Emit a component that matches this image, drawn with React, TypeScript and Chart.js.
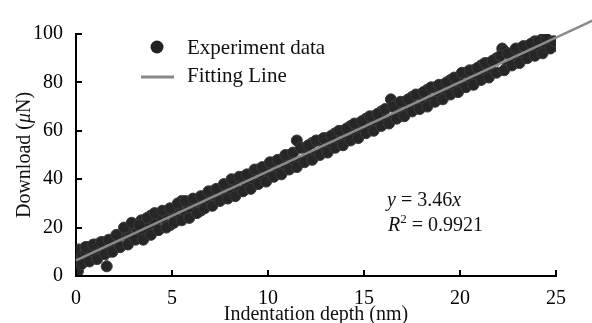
import React, { useEffect, useRef } from "react";
import { Chart, registerables } from "chart.js";

Chart.register(...registerables);

// first loading pass
const depthNm = [
  0, 0, 0.05, 0.1, 0.15, 0.3, 0.5, 0.6, 0.8, 1.0, 1.2, 1.4, 1.6, 1.7, 1.9, 2.1, 2.3, 2.4, 2.6, 2.8,
  3.0, 3.2, 3.4, 3.5, 3.7, 3.9, 4.1, 4.3, 4.5, 4.7, 4.9, 5.1, 5.3, 5.5, 5.7, 5.9, 6.1, 6.3, 6.5, 6.7,
  6.9, 7.1, 7.3, 7.5, 7.7, 7.9, 8.1, 8.3, 8.5, 8.7, 8.9, 9.1, 9.3, 9.5, 9.7, 9.9, 10.1, 10.3, 10.5, 10.7,
  10.9, 11.1, 11.3, 11.5, 11.7, 11.9, 12.1, 12.3, 12.5, 12.7, 12.9, 13.1, 13.3, 13.5, 13.7, 13.9, 14.1, 14.3, 14.5, 14.7,
  14.9, 15.1, 15.3, 15.5, 15.7, 15.9, 16.1, 16.4, 16.5, 16.7, 16.9, 17.1, 17.3, 17.5, 17.7, 17.9, 18.1, 18.3, 18.5, 18.7,
  18.9, 19.1, 19.3, 19.5, 19.7, 19.9, 20.1, 20.3, 20.5, 20.7, 20.9, 21.1, 21.3, 21.5, 21.7, 21.9, 22.2, 22.3, 22.5, 22.7,
  22.9, 23.1, 23.3, 23.5, 23.7, 23.9, 24.1, 24.3, 24.5, 24.7, 24.9, 25.0,
];

const loadUN = [
  0, 3, 6, 9, 11, 8, 10, 12, 9, 13, 11, 14, 4, 10, 13, 15, 12, 17, 19, 16,
  21, 18, 23, 17, 20, 25, 22, 19, 24, 26, 21, 25, 29, 31, 26, 28, 30, 31, 27, 33,
  30, 35, 31, 36, 33, 37, 34, 39, 35, 41, 37, 42, 38, 44, 40, 45, 41, 47, 43, 48,
  44, 50, 46, 56, 47, 53, 49, 55, 50, 56, 52, 57, 53, 59, 55, 60, 56, 62, 58, 63,
  59, 65, 61, 66, 62, 68, 64, 73, 65, 71, 67, 72, 68, 74, 70, 75, 71, 77, 72, 78,
  74, 79, 76, 81, 77, 82, 78, 84, 80, 85, 81, 87, 83, 88, 84, 90, 94, 93, 87, 92,
  89, 94, 90, 95, 92, 97, 93, 98, 94, 97, 95, 96,
];

// second pass
const depthNm2 = [
  0.1, 0.3, 0.5, 0.7, 0.9, 1.1, 1.3, 1.5, 1.7, 1.9, 2.1, 2.3, 2.5, 2.7, 2.9, 3.1, 3.3, 3.5, 3.7, 3.9,
  4.1, 4.3, 4.5, 4.7, 4.9, 5.1, 5.3, 5.5, 5.7, 5.9, 6.1, 6.3, 6.5, 6.7, 6.9, 7.1, 7.3, 7.5, 7.7, 7.9,
  8.1, 8.3, 8.5, 8.7, 8.9, 9.1, 9.3, 9.5, 9.7, 9.9, 10.1, 10.3, 10.5, 10.7, 10.9, 11.1, 11.3, 11.5, 11.7, 11.9,
  12.1, 12.3, 12.5, 12.7, 12.9, 13.1, 13.3, 13.5, 13.7, 13.9, 14.1, 14.3, 14.5, 14.7, 14.9, 15.1, 15.3, 15.5, 15.7, 15.9,
  16.1, 16.3, 16.5, 16.7, 16.9, 17.1, 17.3, 17.5, 17.7, 17.9, 18.1, 18.3, 18.5, 18.7, 18.9, 19.1, 19.3, 19.5, 19.7, 19.9,
  20.1, 20.3, 20.5, 20.7, 20.9, 21.1, 21.3, 21.5, 21.7, 21.9, 22.1, 22.3, 22.5, 22.7, 22.9, 23.1, 23.3, 23.5, 23.7, 23.9,
  24.1, 24.3, 24.5, 24.7, 24.9,
];

const loadUN2 = [
  2, 5, 12, 6, 13, 7, 14, 9, 15, 10, 17, 12, 20, 13, 22, 15, 21, 15, 24, 17,
  26, 19, 27, 20, 28, 22, 30, 23, 31, 24, 32, 26, 33, 28, 35, 29, 36, 31, 38, 32,
  40, 33, 41, 35, 42, 36, 44, 38, 45, 39, 47, 41, 48, 42, 50, 44, 51, 45, 53, 47,
  54, 48, 56, 50, 57, 51, 58, 53, 60, 54, 61, 56, 63, 57, 64, 59, 66, 60, 67, 62,
  69, 63, 70, 65, 72, 66, 73, 68, 75, 69, 76, 70, 78, 72, 79, 73, 80, 75, 82, 76,
  84, 78, 85, 79, 86, 81, 88, 82, 89, 84, 91, 85, 92, 87, 94, 88, 95, 90, 96, 91,
  97, 92, 98, 94, 97,
];

const fitX = [0, 27];
const fitY = [6.5, 105.9];

const xTicks = [0, 5, 10, 15, 20, 25];
const yTicks = [0, 20, 40, 60, 80, 100];

const SERIF = "Liberation Serif";
Chart.defaults.font.family = SERIF;

const overlay = {
  id: "overlay",
  afterDraw(chart: any) {
    const ctx = chart.ctx as CanvasRenderingContext2D;
    const xs = chart.scales.x;
    const ys = chart.scales.y;
    ctx.save();
    ctx.strokeStyle = "#000";
    ctx.lineWidth = 2;
    ctx.beginPath();
    xTicks.forEach((v) => {
      const px = Math.round(xs.getPixelForValue(v));
      ctx.moveTo(px, ys.bottom);
      ctx.lineTo(px, ys.bottom - 6);
    });
    yTicks.forEach((v) => {
      const py = Math.round(ys.getPixelForValue(v));
      ctx.moveTo(xs.left, py);
      ctx.lineTo(xs.left + 6, py);
    });
    ctx.stroke();

    ctx.textBaseline = "middle";

    // legend
    ctx.beginPath();
    ctx.arc(157, 47, 6.5, 0, Math.PI * 2);
    ctx.fillStyle = "#222";
    ctx.fill();
    ctx.strokeStyle = "#888";
    ctx.lineWidth = 3;
    ctx.beginPath();
    ctx.moveTo(141, 77);
    ctx.lineTo(174, 77);
    ctx.stroke();
    ctx.fillStyle = "#111";
    ctx.font = `21px ${SERIF}`;
    ctx.textAlign = "left";
    ctx.fillText("Experiment data", 187, 48);
    ctx.fillText("Fitting Line", 187, 76);

    const drawRuns = (runs: [string, string][], x: number, y: number) => {
      let cx = x;
      runs.forEach(([t, f]) => {
        ctx.font = f;
        ctx.fillText(t, cx, y);
        cx += ctx.measureText(t).width;
      });
    };
    const norm = `20px ${SERIF}`;
    const ital = `italic 20px ${SERIF}`;
    drawRuns([["y", ital], [" = 3.46", norm], ["x", ital]], 387, 201);
    let cx = 388;
    ctx.font = ital;
    ctx.fillText("R", cx, 226);
    cx += ctx.measureText("R").width;
    ctx.font = `13px ${SERIF}`;
    ctx.fillText("2", cx, 220);
    cx += ctx.measureText("2").width;
    ctx.font = norm;
    ctx.fillText(" = 0.9921", cx, 226);

    ctx.font = norm;
    ctx.textAlign = "center";
    ctx.fillText("Indentation depth (nm)", (xs.left + xs.right) / 2, 315);

    ctx.save();
    ctx.translate(25, (ys.top + ys.bottom) / 2);
    ctx.rotate(-Math.PI / 2);
    const parts: [string, string][] = [["Download (", norm], ["\u03bc", ital], ["N)", norm]];
    let total = 0;
    parts.forEach(([t, f]) => { ctx.font = f; total += ctx.measureText(t).width; });
    ctx.textAlign = "left";
    let px = -total / 2;
    parts.forEach(([t, f]) => {
      ctx.font = f;
      ctx.fillText(t, px, 0);
      px += ctx.measureText(t).width;
    });
    ctx.restore();

    ctx.restore();
  },
};

export default function App() {
  const ref = useRef<HTMLCanvasElement | null>(null);
  useEffect(() => {
    if (!ref.current) return;
    const expData: any[] = depthNm.map((x, i) => ({ x, y: loadUN[i] }));
    expData.push({ x: 25, y: null });
    depthNm2.forEach((x, i) => expData.push({ x, y: loadUN2[i] }));
    const fitData = fitX.map((x, i) => ({ x, y: fitY[i] }));
    const chart = new Chart(ref.current, {
      type: "scatter",
      data: {
        datasets: [
          {
            label: "Fitting Line",
            data: fitData,
            showLine: true,
            borderColor: "#8a8a8a",
            borderWidth: 2.5,
            pointRadius: 0,
            clip: false as any,
            order: 0,
          },
          {
            label: "Experiment data",
            data: expData,
            showLine: true,
            spanGaps: false,
            borderColor: "#a0a0a0",
            borderWidth: 1.5,
            pointRadius: 5.5,
            pointBackgroundColor: "#262626",
            pointBorderColor: "#3a3a3a",
            pointBorderWidth: 1,
            order: 1,
          },
        ],
      },
      options: {
        animation: false,
        responsive: true,
        maintainAspectRatio: false,
        layout: { padding: { top: 34, right: 36, left: 0, bottom: 0 } },
        plugins: { legend: { display: false }, tooltip: { enabled: false } },
        scales: {
          x: {
            type: "linear",
            min: 0,
            max: 25,
            afterBuildTicks: (s: any) => { s.ticks = xTicks.map((v) => ({ value: v })); },
            afterFit: (s: any) => { s.height = 47; },
            grid: { display: false },
            border: { display: true, color: "#000", width: 2 },
            ticks: { color: "#000", padding: 3, font: { family: SERIF, size: 20 } },
          },
          y: {
            type: "linear",
            min: 0,
            max: 100,
            afterBuildTicks: (s: any) => { s.ticks = yTicks.map((v) => ({ value: v })); },
            afterFit: (s: any) => { s.width = 76; },
            grid: { display: false },
            border: { display: true, color: "#000", width: 2 },
            ticks: { color: "#000", padding: 5, font: { family: SERIF, size: 20 } },
          },
        },
      },
      plugins: [overlay],
    });
    return () => chart.destroy();
  }, []);
  return (
    <div style={{ position: "absolute", left: 0, top: 0, width: 592, height: 323, background: "#fff" }}>
      <canvas ref={ref} />
    </div>
  );
}
